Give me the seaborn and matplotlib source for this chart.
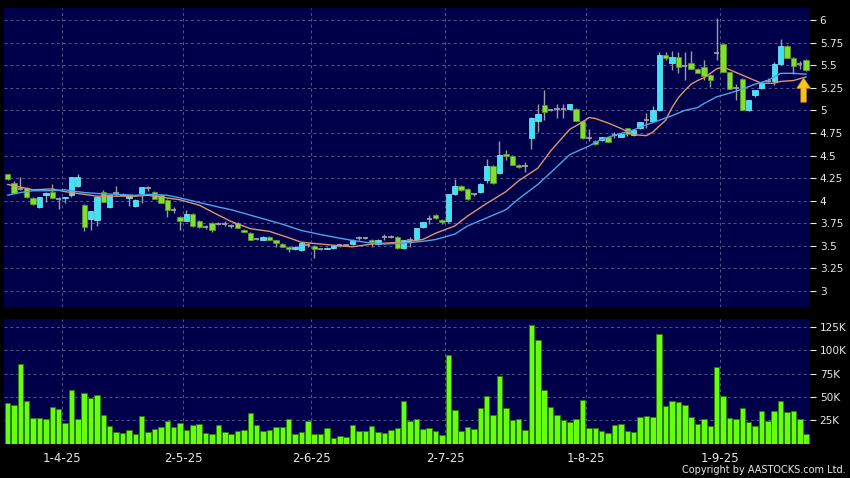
import numpy as np
import pandas as pd
import matplotlib
matplotlib.use("Agg")
import matplotlib.pyplot as plt
import seaborn as sns

# daily candles (index 0 = first bar on the left)
opens = [4.29, 4.20, 4.13, 4.14, 4.03, 3.93, 4.06, 4.10, 4.02, 4.03,
         4.06, 4.16, 3.95, 3.80, 3.79, 4.10, 3.93, 4.08, 4.06, 4.03,
         3.94, 4.09, 4.14, 4.10, 4.06, 4.01, 3.90, 3.82, 3.78, 3.85,
         3.78, 3.71, 3.75, 3.74, 3.74, 3.72, 3.75, 3.68, 3.64, 3.58,
         3.57, 3.60, 3.56, 3.52, 3.49, 3.46, 3.45, 3.51, 3.50, 3.47,
         3.47, 3.48, 3.51, 3.51, 3.52, 3.59, 3.59, 3.57, 3.52, 3.60,
         3.60, 3.60, 3.48, 3.56, 3.58, 3.71, 3.80, 3.84, 3.79, 3.77,
         4.07, 4.16, 4.13, 4.07, 4.10, 4.23, 4.38, 4.31, 4.52, 4.50,
         4.40, 4.38, 4.69, 4.88, 5.06, 5.00, 5.02, 5.02, 5.01, 5.02,
         4.88, 4.69, 4.66, 4.67, 4.70, 4.73, 4.71, 4.80, 4.73, 4.80,
         4.89, 4.88, 5.00, 5.61, 5.52, 5.59, 5.49, 5.52, 5.46, 5.48,
         5.39, 5.64, 5.73, 5.42, 5.25, 5.35, 5.00, 5.17, 5.25, 5.33,
         5.33, 5.51, 5.71, 5.58, 5.51, 5.56]
highs = [4.30, 4.22, 4.26, 4.15, 4.04, 4.04, 4.10, 4.19, 4.04, 4.04,
         4.26, 4.29, 3.96, 3.89, 4.04, 4.12, 4.06, 4.16, 4.08, 4.06,
         4.02, 4.15, 4.16, 4.11, 4.07, 4.02, 3.93, 3.83, 3.90, 3.86,
         3.79, 3.73, 3.76, 3.76, 3.78, 3.74, 3.76, 3.69, 3.65, 3.59,
         3.61, 3.61, 3.56, 3.53, 3.50, 3.50, 3.54, 3.53, 3.51, 3.48,
         3.49, 3.51, 3.52, 3.52, 3.58, 3.61, 3.60, 3.58, 3.58, 3.63,
         3.62, 3.61, 3.56, 3.60, 3.70, 3.76, 3.84, 3.85, 3.80, 4.07,
         4.24, 4.17, 4.14, 4.09, 4.20, 4.46, 4.40, 4.66, 4.56, 4.51,
         4.41, 4.43, 4.93, 5.07, 5.23, 5.02, 5.07, 5.07, 5.07, 5.03,
         4.89, 4.79, 4.67, 4.70, 4.71, 4.76, 4.74, 4.81, 4.78, 4.87,
         4.97, 5.05, 5.65, 5.65, 5.66, 5.65, 5.65, 5.66, 5.47, 5.56,
         5.40, 6.02, 5.74, 5.43, 5.29, 5.36, 5.12, 5.23, 5.31, 5.36,
         5.54, 5.79, 5.72, 5.59, 5.55, 5.57]
lows = [4.23, 4.08, 4.12, 4.03, 3.95, 3.92, 3.98, 4.03, 3.91, 3.97,
        4.04, 4.15, 3.66, 3.68, 3.72, 3.99, 3.92, 4.05, 4.05, 3.94,
        3.93, 3.97, 4.11, 4.02, 3.97, 3.82, 3.86, 3.68, 3.77, 3.71,
        3.70, 3.69, 3.65, 3.73, 3.72, 3.70, 3.70, 3.65, 3.56, 3.56,
        3.56, 3.56, 3.49, 3.49, 3.43, 3.45, 3.44, 3.49, 3.36, 3.45,
        3.46, 3.47, 3.49, 3.50, 3.51, 3.56, 3.58, 3.49, 3.51, 3.57,
        3.59, 3.47, 3.46, 3.49, 3.57, 3.70, 3.74, 3.80, 3.74, 3.75,
        4.06, 4.11, 4.01, 4.05, 4.08, 4.20, 4.19, 4.30, 4.45, 4.40,
        4.36, 4.32, 4.57, 4.76, 4.89, 4.99, 4.91, 4.91, 5.00, 4.88,
        4.68, 4.66, 4.62, 4.66, 4.65, 4.69, 4.70, 4.72, 4.72, 4.79,
        4.80, 4.87, 4.99, 5.56, 5.45, 5.41, 5.34, 5.46, 5.41, 5.34,
        5.26, 5.56, 5.42, 5.24, 5.11, 5.00, 4.99, 5.15, 5.24, 5.31,
        5.28, 5.50, 5.58, 5.40, 5.46, 5.44]
closes = [4.24, 4.09, 4.13, 4.04, 3.96, 4.04, 4.09, 4.03, 4.02, 4.04,
          4.26, 4.26, 3.71, 3.89, 4.04, 3.99, 4.06, 4.08, 4.07, 4.06,
          4.01, 4.15, 4.14, 4.02, 3.97, 3.90, 3.90, 3.78, 3.85, 3.72,
          3.71, 3.71, 3.68, 3.74, 3.74, 3.72, 3.70, 3.65, 3.56, 3.58,
          3.60, 3.57, 3.53, 3.49, 3.46, 3.49, 3.53, 3.51, 3.46, 3.47,
          3.48, 3.50, 3.51, 3.51, 3.57, 3.59, 3.59, 3.54, 3.57, 3.60,
          3.60, 3.48, 3.56, 3.56, 3.70, 3.76, 3.80, 3.81, 3.76, 4.07,
          4.16, 4.12, 4.02, 4.07, 4.19, 4.38, 4.20, 4.51, 4.49, 4.40,
          4.37, 4.38, 4.92, 4.96, 4.98, 5.00, 5.02, 5.02, 5.07, 4.88,
          4.69, 4.69, 4.63, 4.70, 4.65, 4.73, 4.74, 4.74, 4.78, 4.87,
          4.89, 5.00, 5.61, 5.58, 5.59, 5.48, 5.49, 5.46, 5.41, 5.38,
          5.34, 5.64, 5.43, 5.24, 5.25, 5.00, 5.12, 5.22, 5.30, 5.33,
          5.51, 5.71, 5.58, 5.49, 5.51, 5.45]

# volume in thousands of shares
volume_k = [43.8, 41.3, 85.0, 46.0, 27.0, 27.7, 26.0, 39.0, 36.6, 22.0,
            57.0, 26.6, 54.6, 48.9, 52.4, 30.9, 19.0, 12.2, 11.1, 14.0,
            10.0, 29.5, 11.9, 15.4, 18.0, 23.7, 17.2, 21.6, 14.0, 20.1,
            20.5, 11.1, 10.0, 19.4, 12.6, 9.7, 13.3, 14.4, 32.3, 19.4,
            13.6, 14.4, 17.6, 17.6, 26.2, 10.0, 11.9, 24.4, 10.0, 10.0,
            16.2, 5.7, 7.9, 6.8, 20.1, 13.3, 13.6, 19.0, 11.9, 11.5,
            14.4, 16.2, 46.0, 23.7, 26.6, 15.8, 16.2, 13.6, 8.6, 95.2,
            36.3, 13.3, 17.2, 15.4, 38.4, 50.6, 30.5, 72.2, 38.0, 25.5,
            26.6, 15.0, 127.5, 110.6, 57.5, 39.2, 30.9, 24.8, 22.6, 25.9,
            46.3, 16.5, 16.2, 13.6, 11.1, 19.4, 20.5, 12.9, 12.6, 28.0,
            29.1, 28.7, 117.5, 39.9, 45.6, 44.5, 41.3, 28.4, 20.8, 26.6,
            18.3, 81.5, 50.6, 27.3, 26.6, 37.7, 23.3, 18.3, 34.5, 23.7,
            34.8, 46.0, 33.8, 34.5, 25.9, 10.0]

# moving average lines, read at the bars listed
ma_short_idx = [0, 2, 4, 7, 9, 11, 14, 17, 20, 22, 25, 27, 30, 33, 35, 38, 41,
                44, 46, 49, 52, 54, 57, 59, 62, 65, 67, 70, 72, 75, 78, 80, 83,
                85, 88, 90, 91, 92, 94, 96, 98, 100, 101, 103, 104, 105, 106,
                107, 108, 109, 110, 111, 112, 113, 114, 115, 117, 118, 120,
                121, 123, 125]
ma_short_val = [4.18, 4.15, 4.12, 4.13, 4.10, 4.08, 4.05, 4.05, 4.05, 4.06,
                4.03, 4.01, 3.95, 3.84, 3.77, 3.69, 3.66, 3.59, 3.54, 3.52,
                3.50, 3.49, 3.52, 3.53, 3.54, 3.57, 3.64, 3.72, 3.83, 3.97,
                4.10, 4.22, 4.36, 4.55, 4.79, 4.87, 4.92, 4.91, 4.86, 4.80,
                4.73, 4.72, 4.76, 4.89, 5.03, 5.14, 5.22, 5.29, 5.33, 5.36,
                5.41, 5.46, 5.48, 5.45, 5.42, 5.39, 5.33, 5.30, 5.30, 5.32,
                5.33, 5.37]
ma_long_idx = [0, 2, 4, 7, 9, 12, 14, 17, 20, 22, 25, 27, 30, 33, 35, 38, 41,
               43, 46, 49, 52, 54, 57, 59, 62, 65, 67, 70, 72, 75, 78, 80, 83,
               85, 88, 91, 93, 96, 98, 100, 102, 104, 106, 108, 109, 111, 113,
               115, 117, 119, 120, 121, 123, 125]
ma_long_val = [4.06, 4.09, 4.11, 4.11, 4.12, 4.09, 4.08, 4.07, 4.06, 4.07,
               4.06, 4.03, 3.98, 3.93, 3.90, 3.84, 3.78, 3.74, 3.67, 3.625,
               3.585, 3.56, 3.53, 3.52, 3.53, 3.55, 3.57, 3.63, 3.72, 3.81,
               3.90, 4.02, 4.18, 4.31, 4.51, 4.605, 4.68, 4.745, 4.785, 4.84,
               4.89, 4.94, 5.00, 5.03, 5.075, 5.15, 5.19, 5.235, 5.29, 5.33,
               5.37, 5.41, 5.41, 5.40]

month_bars = [9, 28, 48, 69, 91, 112]
month_labels = ["1-4-25", "2-5-25", "2-6-25", "2-7-25", "1-8-25", "1-9-25"]
price_ticks = [3, 3.25, 3.5, 3.75, 4, 4.25, 4.5, 4.75, 5, 5.25, 5.5, 5.75, 6]
vol_ticks = [25, 50, 75, 100, 125]

df = pd.DataFrame({"open": opens, "high": highs, "low": lows,
                   "close": closes, "vol": volume_k})
df["bar"] = np.arange(len(df))
up = df[df["close"] > df["open"]]
down = df[df["close"] < df["open"]]
flat = df[df["close"] == df["open"]]

sns.set_style("dark")
plt.rcParams["font.family"] = ["DejaVu Sans"]

navy = "#00004a"
grid_c = "#55558a"
txt_c = "#e8e8e8"

fig = plt.figure(figsize=(8.5, 4.78), dpi=100, facecolor="black")
W, H = 850.0, 478.0
ax1 = fig.add_axes([3.5 / W, 1 - 307 / H, 806.5 / W, 299 / H])
ax2 = fig.add_axes([3.5 / W, 1 - 443.5 / H, 806.5 / W, 124.5 / H])

for ax in (ax1, ax2):
    ax.set_facecolor(navy)
    for s in ax.spines.values():
        s.set_visible(False)
    ax.set_xlim(-0.63, 125.6)
    ax.set_xticks([b - 0.5 for b in month_bars])
    ax.grid(True, color=grid_c, linestyle=(0, (3, 3)), linewidth=0.7)
    ax.set_axisbelow(True)
    ax.yaxis.tick_right()
    ax.tick_params(axis="y", colors=txt_c, labelsize=7.6, length=4, width=0.8, pad=3)
    ax.tick_params(axis="x", colors="#8a8a8a", labelcolor=txt_c, labelsize=8.5,
                   length=3, width=0.8, pad=3)
    ax.set_xlabel("")
    ax.set_ylabel("")

# ---- price panel ----
ax1.vlines(df["bar"], df["low"], df["high"], color="#9c9c9c", linewidth=1, zorder=2)
ax1.bar(up["bar"], up["close"] - up["open"], bottom=up["open"], width=0.84,
        color="#3fe4f2", edgecolor="#7ff0ff", linewidth=0.5, zorder=3)
ax1.bar(down["bar"], down["open"] - down["close"], bottom=down["close"], width=0.84,
        color="#80e030", edgecolor="#5c9e22", linewidth=0.5, zorder=3)
ax1.hlines(flat["close"], flat["bar"] - 0.42, flat["bar"] + 0.42,
           color="#a8a8a8", linewidth=1.2, zorder=3)

sns.lineplot(x=ma_short_idx, y=ma_short_val, ax=ax1, color="#e0946e", linewidth=1, zorder=4)
sns.lineplot(x=ma_long_idx, y=ma_long_val, ax=ax1, color="#4aa6e8", linewidth=1, zorder=4)

ax1.annotate("", xy=(124.6, 5.36), xytext=(124.6, 5.09),
             arrowprops=dict(arrowstyle="simple,head_length=0.75,head_width=1.0,tail_width=0.4",
                             mutation_scale=10, fc="#f6c418", ec="#c88a00", lw=0.5,
                             shrinkA=0, shrinkB=0), zorder=5)

ax1.set_ylim(2.823, 6.133)
ax1.set_yticks(price_ticks)
ax1.set_yticklabels(["%g" % t for t in price_ticks])
ax1.tick_params(axis="x", labelbottom=False, length=0)
ax1.set_xlabel("")
ax1.set_ylabel("")

# ---- volume panel ----
sns.barplot(x=df["bar"], y=df["vol"], ax=ax2, native_scale=True, width=0.86,
            color="#66ff10", saturation=1, edgecolor="#2e7a00", linewidth=0.6, zorder=3)
ax2.set_xlim(-0.63, 125.6)
ax2.set_xticks([b - 0.5 for b in month_bars])
ax2.set_xticklabels(month_labels)
ax2.set_ylim(0, 133.4)
ax2.set_yticks(vol_ticks)
ax2.set_yticklabels(["%dK" % t for t in vol_ticks])
ax2.set_xlabel("")
ax2.set_ylabel("")

fig.text(846 / W, 1 - 470 / H, "Copyright by AASTOCKS.com Ltd.", color=txt_c,
         fontsize=7, ha="right", va="center")

fig.savefig("out.png", dpi=100, facecolor="black")
